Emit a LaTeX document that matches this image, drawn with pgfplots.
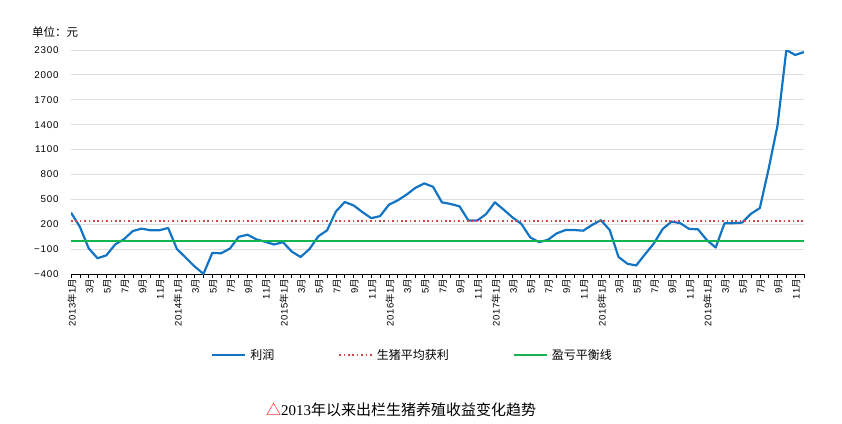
\documentclass[border=0pt]{standalone}
\usepackage{pgfplots}
\pgfplotsset{compat=1.18}
\usepackage{fontspec}
\setmainfont{Liberation Sans}
\newfontfamily\cjk{Noto Sans CJK SC}
\newfontfamily\serif{Liberation Serif}
\newfontfamily\tickfont[LetterSpace=8]{Liberation Sans}
\newcommand\nian{{\cjk 年}}
\newcommand\yue{{\cjk 月}}
\definecolor{profit}{RGB}{20,116,196}
\definecolor{avgred}{RGB}{205,70,70}
\definecolor{bepgreen}{RGB}{20,180,80}
\begin{document}
\begin{tikzpicture}
\begin{axis}[
  at={(71pt,-274pt)}, anchor=south west,
  scale only axis, width=733pt, height=224pt,
  xmin=0, xmax=83, ymin=-400, ymax=2300,
  ytick={-400,-100,200,500,800,1100,1400,1700,2000,2300},
  yticklabels={−400,−100,200,500,800,1100,1400,1700,2000,2300},
  ymajorgrids, grid style={black!13, line width=0.9pt},
  axis x line*=bottom, axis y line*=left,
  y axis line style={draw=none}, ytick style={draw=none},
  x axis line style={black, line width=0.8pt},
  xtick={0,2,...,82}, minor xtick={1,3,...,83},
  xtick style={black, line width=0.6pt},
  minor x tick style={black, line width=0.6pt},
  tick align=outside, major tick length=4pt, minor tick length=4pt,
  xticklabels={
    2013\nian1\yue,3\yue,5\yue,7\yue,9\yue,11\yue,
    2014\nian1\yue,3\yue,5\yue,7\yue,9\yue,11\yue,
    2015\nian1\yue,3\yue,5\yue,7\yue,9\yue,11\yue,
    2016\nian1\yue,3\yue,5\yue,7\yue,9\yue,11\yue,
    2017\nian1\yue,3\yue,5\yue,7\yue,9\yue,11\yue,
    2018\nian1\yue,3\yue,5\yue,7\yue,9\yue,11\yue,
    2019\nian1\yue,3\yue,5\yue,7\yue,9\yue,11\yue},
  xticklabel style={rotate=90, anchor=east, font=\tickfont\fontsize{9.5}{10}\selectfont, inner sep=1pt, yshift=-1pt},
  yticklabel style={font=\tickfont\fontsize{9.8}{10}\selectfont, xshift=-5pt},
  legend columns=3,
  legend style={draw=none, at={(axis description cs:0.466,-0.3616)}, anchor=center,
    font=\cjk\fontsize{12}{13}\selectfont,
    /tikz/every odd column/.append style={column sep=2pt},
    /tikz/every even column/.append style={column sep=62pt}},
  legend image code/.code={\draw[#1] (0pt,0pt) -- (33pt,0pt);},
]
\addplot[profit, line width=2.2pt, line join=round] table[row sep=\\, x expr=\coordindex, y=v]{
v\\
340\\ 170\\ -90\\ -210\\ -175\\ -44\\ 20\\ 118\\ 147\\ 127\\ 127\\ 155\\
-100\\ -203\\ -309\\ -398\\ -146\\ -150\\ -93\\ 49\\ 73\\ 17\\ -12\\ -44\\
-16\\ -130\\ -195\\ -100\\ 54\\ 127\\ 354\\ 468\\ 427\\ 346\\ 273\\ 298\\
435\\ 488\\ 557\\ 639\\ 692\\ 651\\ 464\\ 444\\ 415\\ 244\\ 244\\ 322\\
464\\ 375\\ 281\\ 204\\ 41\\ -16\\ 12\\ 90\\ 130\\ 130\\ 122\\ 191\\
249\\ 130\\ -195\\ -276\\ -297\\ -162\\ -32\\ 143\\ 232\\ 212\\ 143\\ 139\\
8\\ -81\\ 212\\ 212\\ 220\\ 326\\ 395\\ 870\\ 1390\\ 2300\\ 2240\\ 2275\\
};
\addlegendentry{利润}
\addplot[avgred, line width=1.6pt, dash pattern=on 1.6pt off 2.8pt] coordinates {(0,240) (83,240)};
\addlegendentry{生猪平均获利}
\addplot[bepgreen, line width=2pt] coordinates {(0,0) (83,0)};
\addlegendentry{盈亏平衡线}
\end{axis}
\node[anchor=west, font=\cjk\fontsize{11.5}{12}\selectfont, inner sep=0pt] at (32pt,-32pt) {单位：元};
\node[anchor=center, font=\cjk\fontsize{15}{17}\selectfont, inner sep=0pt] at (401pt,-410pt)
  {\textcolor{red}{△}{\serif 2013}年以来出栏生猪养殖收益变化趋势};
\pgfresetboundingbox
\path (0pt,0pt) rectangle (842pt,-423pt);
\end{tikzpicture}
\end{document}
